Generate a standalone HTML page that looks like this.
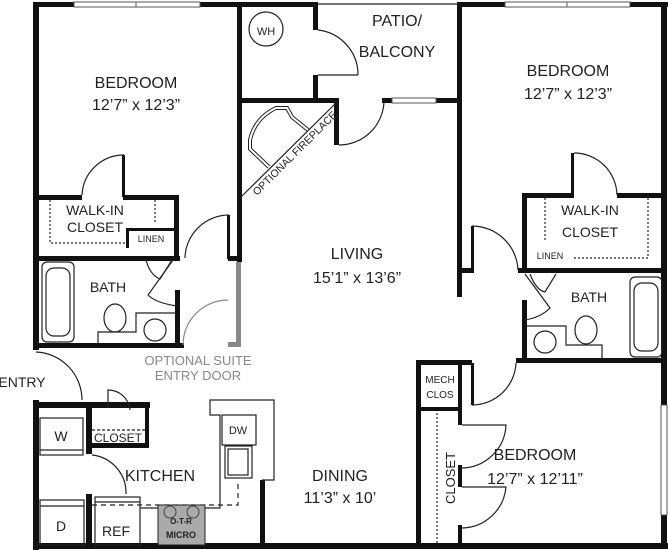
<!DOCTYPE html>
<html><head><style>
html,body{margin:0;padding:0;background:#fff;}
svg{display:block;}
text{font-family:"Liberation Sans",sans-serif;fill:#222;}
</style></head><body>
<svg width="668" height="550" viewBox="0 0 668 550" xmlns="http://www.w3.org/2000/svg">
<g fill="#111">
<rect x="33" y="2" width="285" height="5"/>
<rect x="458" y="2" width="210" height="5"/>
<rect x="33" y="2" width="6" height="348"/>
<rect x="33" y="400" width="6" height="150"/>
<rect x="661" y="2" width="6" height="546"/>
<rect x="33" y="543" width="635" height="6"/>
<rect x="237" y="2" width="5" height="260"/>
<rect x="240" y="98" width="96" height="5"/>
<rect x="313" y="2" width="5" height="28"/>
<rect x="313" y="75" width="5" height="26"/>
<rect x="382" y="98" width="80" height="5"/>
<rect x="334" y="98" width="5" height="47"/>
<rect x="457" y="2" width="5" height="295"/>
<rect x="458" y="268" width="16" height="5"/>
<rect x="471" y="226" width="3" height="44"/>
<rect x="36" y="195" width="46" height="5"/>
<rect x="123" y="195" width="56" height="5"/>
<rect x="122" y="155" width="3" height="42"/>
<rect x="174" y="195" width="5" height="66"/>
<rect x="126" y="228" width="3" height="20"/>
<rect x="126" y="228" width="50" height="3"/>
<rect x="36" y="256" width="144" height="5"/>
<rect x="228" y="256" width="12" height="5"/>
<rect x="227" y="215" width="3" height="44"/>
<rect x="175" y="290" width="5" height="58"/>
<rect x="36" y="343" width="148" height="5"/>
<rect x="36" y="402" width="114" height="6"/>
<rect x="86" y="402" width="6" height="52"/>
<rect x="86" y="494" width="6" height="54"/>
<rect x="88" y="443" width="60" height="5"/>
<rect x="145" y="402" width="4" height="46"/>
<rect x="260" y="480" width="5" height="68"/>
<rect x="522" y="193" width="52" height="5"/>
<rect x="617" y="193" width="50" height="5"/>
<rect x="571" y="153" width="3" height="42"/>
<rect x="522" y="193" width="5" height="80"/>
<rect x="518" y="268" width="149" height="5"/>
<rect x="522" y="300" width="5" height="62"/>
<rect x="516" y="358" width="150" height="5"/>
<rect x="416" y="360" width="56" height="5"/>
<rect x="416" y="360" width="5" height="188"/>
<rect x="458" y="363" width="4" height="62"/>
<rect x="419" y="407" width="42" height="4"/>
<rect x="458" y="465" width="4" height="22"/>
<rect x="458" y="525" width="4" height="20"/>
<rect x="471" y="363" width="3" height="42"/>
</g>
<g fill="none" stroke="#222" stroke-width="1.2">
<line x1="318" y1="4" x2="458" y2="4"/>
<line x1="318" y1="75" x2="358" y2="75"/>
<path d="M318 30 A45 45 0 0 1 358 75"/>
<path d="M339 145 A45 45 0 0 0 384 100"/>
<path d="M82 195 A42 42 0 0 1 124 155"/>
<path d="M185 258 A44 44 0 0 1 229 215"/>
<path d="M574 153 A43 43 0 0 1 617 195"/>
<path d="M36 352 A48 48 0 0 1 82 400"/>
<path d="M92 455 A38 38 0 0 1 126 494"/>
<path d="M108 408 L108 390 A22 22 0 0 1 130 410"/>
<path d="M516 363 A44 44 0 0 1 472 405"/>
<path d="M462 425 L506 425 A45 45 0 0 1 462 468"/>
<path d="M462 487 L506 487 A45 45 0 0 1 462 528"/>
<path d="M472 226 A46 46 0 0 1 518 270"/>
<path d="M173 260 L148 295 Q156 303 177 306"/>
<path d="M146 260 Q150 275 160 279 L172 260"/>
<path d="M525 274 L550 308 Q540 318 524 320"/>
<path d="M530 274 Q536 290 545 292 L556 274"/>
<line x1="241" y1="197" x2="337" y2="102"/>
<path d="M269 167 L250 149 L250 140 Q255 118 276 108 L287 108 L292 117 L308 130" stroke-width="4"/>
<path d="M269 167 L250 149 L250 140 Q255 118 276 108 L287 108 L292 117 L308 130" stroke="#fff" stroke-width="2"/>
<path d="M50 200 L50 243 L126 243" stroke-dasharray="2,2"/>
<path d="M155 200 L155 223" stroke-dasharray="2,2"/>
<path d="M545 198 L545 240" stroke-dasharray="2,2"/>
<path d="M648 198 L648 258 L574 258" stroke-dasharray="2,2"/>
<line x1="437" y1="413" x2="437" y2="545" stroke-dasharray="2,2"/>
<line x1="92" y1="430" x2="145" y2="430" stroke-dasharray="3,2"/>
<rect x="40" y="418" width="43" height="37"/>
<line x1="40" y1="450" x2="83" y2="450"/>
<rect x="40" y="500" width="44" height="45"/>
<line x1="40" y1="506" x2="84" y2="506"/>
<rect x="95" y="497" width="45" height="48"/>
<line x1="95" y1="502" x2="140" y2="502"/>
<path d="M140 508 L220 508 L220 415 L210 415 L210 400 L274 400 L274 480 L262 480"/>
<rect x="222" y="415" width="34" height="30"/>
<rect x="225" y="446" width="27" height="32"/>
<rect x="228" y="449" width="20" height="26"/>
<path d="M92 505 L238 505 L238 480" stroke-dasharray="5,4"/>
<rect x="42" y="262" width="32" height="80" rx="5"/>
<rect x="46" y="268" width="24" height="68" rx="8"/>
<path d="M98 343 L98 332 L136 332 L136 313 L176 313"/>
<ellipse cx="115" cy="318" rx="11" ry="14"/>
<circle cx="155" cy="330" r="11"/>
<rect x="630" y="277" width="32" height="80" rx="5"/>
<rect x="634" y="283" width="24" height="68" rx="8"/>
<path d="M602 358 L602 345 L566 345 L566 326 L527 326"/>
<ellipse cx="586" cy="330" rx="11" ry="14"/>
<circle cx="545" cy="342" r="11"/>
<circle cx="266" cy="29" r="17"/>
</g>
<g fill="#fff" stroke="#555" stroke-width="1">
<rect x="74" y="2" width="126" height="5"/>
<line x1="136" y1="2" x2="136" y2="7"/>
<rect x="505" y="2" width="125" height="5"/>
<line x1="567" y1="2" x2="567" y2="7"/>
<rect x="392" y="98" width="44" height="5"/>
<rect x="661" y="405" width="6" height="110"/>
</g>
<g fill="#888"><rect x="236" y="262" width="5" height="85"/><rect x="228" y="342" width="12" height="5"/></g>
<path d="M183 345 A45 45 0 0 1 228 300" fill="none" stroke="#888" stroke-width="1.2"/>
<rect x="158" y="505" width="47" height="40" fill="#aaa" stroke="#222"/>
<circle cx="170" cy="512" r="6" fill="none" stroke="#444"/>
<circle cx="193" cy="512" r="6" fill="none" stroke="#444"/>
<g text-anchor="middle">
<text x="136" y="88" font-size="16">BEDROOM</text>
<text x="136" y="110" font-size="16">12’7” x 12’3”</text>
<text x="568" y="76" font-size="16">BEDROOM</text>
<text x="568" y="99" font-size="16">12’7” x 12’3”</text>
<text x="397" y="26" font-size="16">PATIO/</text>
<text x="397" y="57" font-size="16">BALCONY</text>
<text x="266" y="35" font-size="11">WH</text>
<text x="357" y="259" font-size="16">LIVING</text>
<text x="357" y="283" font-size="16">15’1” x 13’6”</text>
<text x="95" y="215" font-size="14">WALK-IN</text>
<text x="95" y="232" font-size="14">CLOSET</text>
<text x="151" y="242" font-size="9">LINEN</text>
<text x="590" y="215" font-size="14">WALK-IN</text>
<text x="590" y="237" font-size="14">CLOSET</text>
<text x="550" y="259" font-size="9">LINEN</text>
<text x="108" y="292" font-size="14">BATH</text>
<text x="589" y="302" font-size="14">BATH</text>
<text x="198" y="365" font-size="13" style="fill:#888">OPTIONAL SUITE</text>
<text x="198" y="380" font-size="13" style="fill:#888">ENTRY DOOR</text>
<text x="22" y="387" font-size="14">ENTRY</text>
<text x="61" y="441" font-size="14">W</text>
<text x="61" y="531" font-size="14">D</text>
<text x="118" y="442" font-size="12">CLOSET</text>
<text x="160" y="481" font-size="16">KITCHEN</text>
<text x="116" y="536" font-size="14">REF</text>
<text x="181" y="524" font-size="8" font-weight="bold">O-T-R</text>
<text x="181" y="538" font-size="9" font-weight="bold">MICRO</text>
<text x="238" y="434" font-size="11">DW</text>
<text x="340" y="481" font-size="16">DINING</text>
<text x="340" y="503" font-size="16">11’3” x 10’</text>
<text x="440" y="383" font-size="10">MECH</text>
<text x="440" y="398" font-size="10">CLOS</text>
<text x="535" y="460" font-size="16">BEDROOM</text>
<text x="535" y="484" font-size="16">12’7” x 12’11”</text>
<text transform="translate(455,478) rotate(-90)" font-size="13">CLOSET</text>
</g>
<text transform="translate(257,196) rotate(-45)" font-size="10.5">OPTIONAL FIREPLACE</text>
</svg>
</body></html>
